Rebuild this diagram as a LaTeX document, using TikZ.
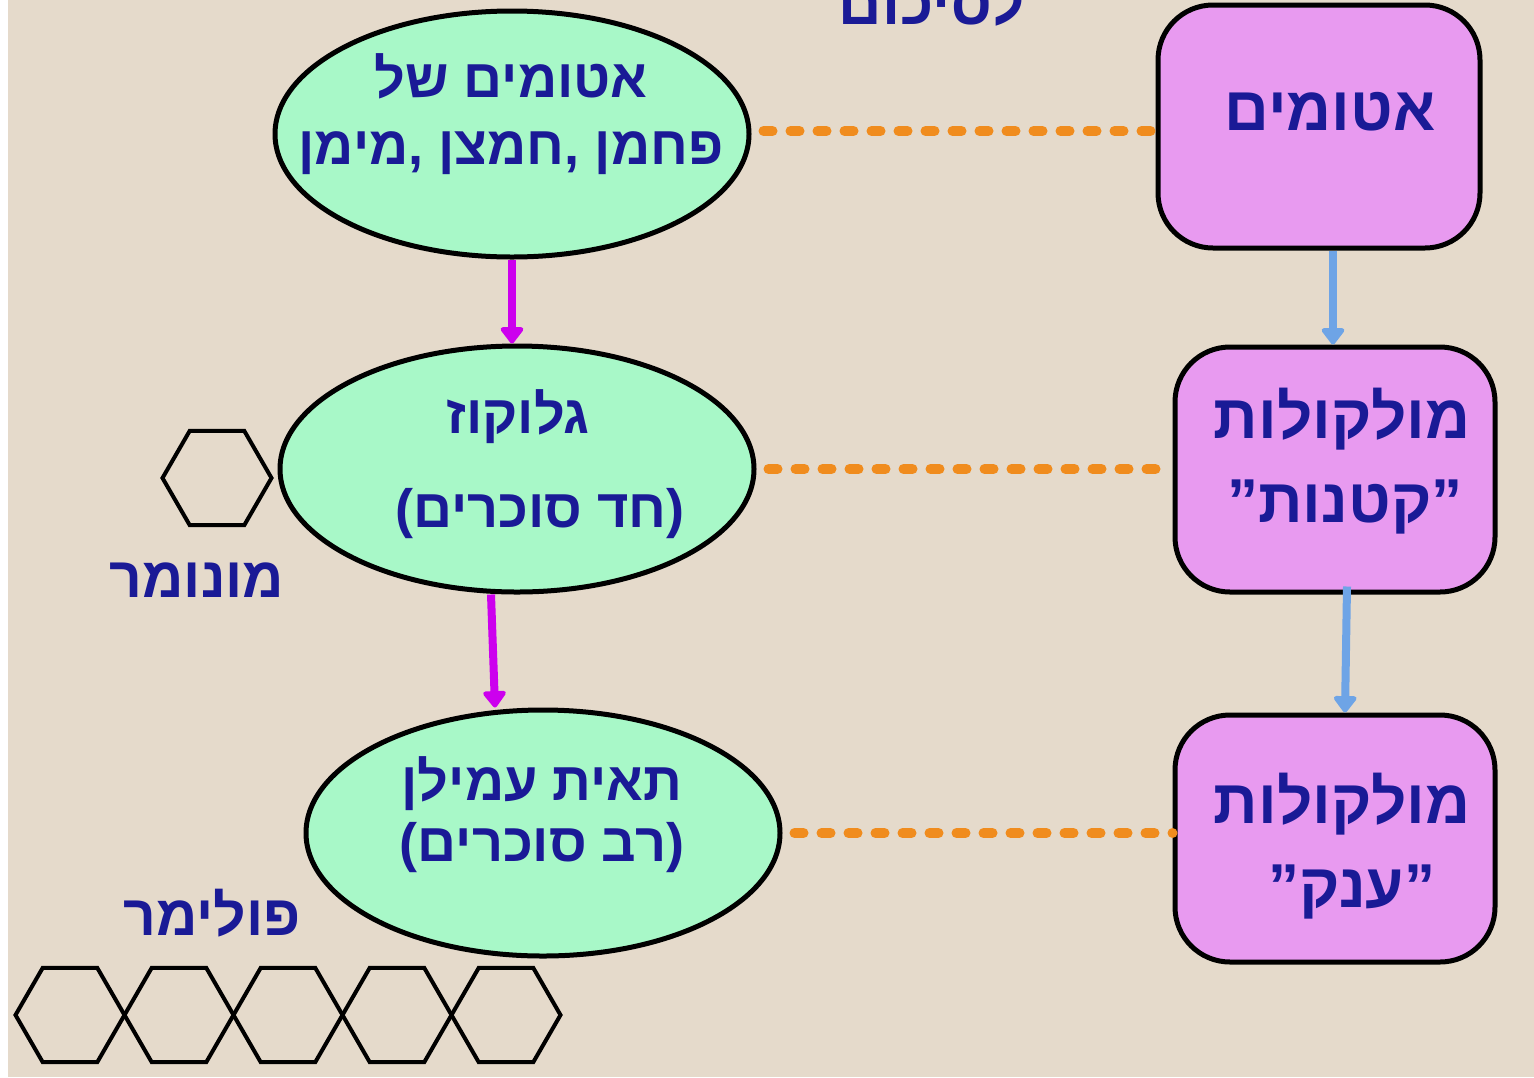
\documentclass[tikz,border=0pt]{standalone}
\usepackage{fontspec}
\usetikzlibrary{arrows.meta,shapes.geometric}
\newfontfamily\heb[Script=Hebrew]{Liberation Sans}
\TeXXeTstate=1
\newcommand{\rtl}[1]{\beginR #1\endR}
\definecolor{paper}{RGB}{229,218,203}
\definecolor{mint}{RGB}{168,248,200}
\definecolor{orchid}{RGB}{232,154,240}
\definecolor{ink}{RGB}{26,26,150}
\definecolor{violetline}{RGB}{204,0,238}
\definecolor{skyline}{RGB}{110,164,230}
\definecolor{dashorange}{RGB}{240,140,30}
\tikzset{
  oval/.style={ellipse, draw=black, line width=5, fill=mint, inner sep=0,
    minimum width=474, minimum height=246},
  box/.style={rectangle, rounded corners=55, draw=black, line width=5,
    fill=orchid, inner sep=0, minimum width=320, minimum height=245},
  txt/.style={font=\heb\bfseries\fontsize{54}{64}\selectfont, text=ink,
    anchor=base, inner sep=0},
  bigtxt/.style={txt, font=\heb\bfseries\fontsize{62}{72}\selectfont},
  tag/.style={txt, font=\heb\bfseries\fontsize{57}{66}\selectfont},
  hexa/.style={regular polygon, regular polygon sides=6, draw=black,
    line width=4, inner sep=0, minimum size=109},
  down/.style={line width=8, -{Triangle[length=18,width=26,round]}},
  link/.style={dashorange, line width=10, line cap=round,
    dash pattern=on 9 off 18}
}
\begin{document}
\begin{tikzpicture}[x=1pt,y=-1pt]
\useasboundingbox (0,0) rectangle (1534,1077);
\fill[white] (0,0) rectangle (1534,1077);
\fill[paper] (8,0) rectangle (1534,1077);

% heading, cut at the upper edge
\node[tag, font=\heb\bfseries\fontsize{60}{70}\selectfont] (title) at (932,24) {\rtl{לסיכום}};

% left column: ovals
\node[oval] (e1) at (512,134) {};
\node[oval] (e2) at (517,469) {};
\node[oval] (e3) at (543,833) {};

\node[txt] (e1a) at (511,97)  {\rtl{אטומים של}};
\node[txt] (e1b) at (511,164) {\rtl{פחמן ,חמצן ,מימן}};
\node[txt] (e2a) at (518,433) {\rtl{גלוקוז}};
\node[txt] (e2b) at (540,527) {\rtl{(חד סוכרים)}};
\node[txt] (e3a) at (542,800) {\rtl{תאית עמילן}};
\node[txt] (e3b) at (542,861) {\rtl{(רב סוכרים)}};

% right column: rounded boxes
\node[box, minimum width=322, minimum height=243] (r1) at (1319,126.5) {};
\node[box] (r2) at (1335,469.5) {};
\node[box, minimum height=247] (r3) at (1335,838.5) {};

\node[bigtxt] (r1a) at (1330,130) {\rtl{אטומים}};
\node[bigtxt] (r2a) at (1342,438) {\rtl{מולקולות}};
\node[bigtxt] (r2b) at (1345,522) {\rtl{”קטנות”}};
\node[bigtxt] (r3a) at (1342,823) {\rtl{מולקולות}};
\node[bigtxt] (r3b) at (1352,907) {\rtl{”ענק”}};

% monomer and polymer sketches
\node[hexa] (h0) at (217,478) {};
\node[tag] (mono) at (197,597) {\rtl{מונומר}};
\node[tag] (poly) at (212,935) {\rtl{פולימר}};
\foreach \i/\x in {1/70,2/179,3/288,4/397,5/506}
  \node[hexa] (p\i) at (\x,1015) {};

% arrows
\draw[down, violetline] (e1.south) -- (e1.south |- e2.north);
\draw[down, violetline] ([xshift=-26]e2.south) -- ([xshift=-48]e3.north);
\draw[down, skyline] ([xshift=14]r1.south) -- ([xshift=14]r1.south |- r2.north);
\draw[down, skyline] ([xshift=12,yshift=8]r2.south) -- ([xshift=10]r3.north);

% dotted links
\draw[link] ([xshift=12]e1.east |- 0,131) -- (r1.west |- 0,131);
\draw[link] ([xshift=12]e2.east) -- (r2.west |- e2.east);
\draw[link] ([xshift=12]e3.east) -- (r3.west |- e3.east);
\end{tikzpicture}
\end{document}
